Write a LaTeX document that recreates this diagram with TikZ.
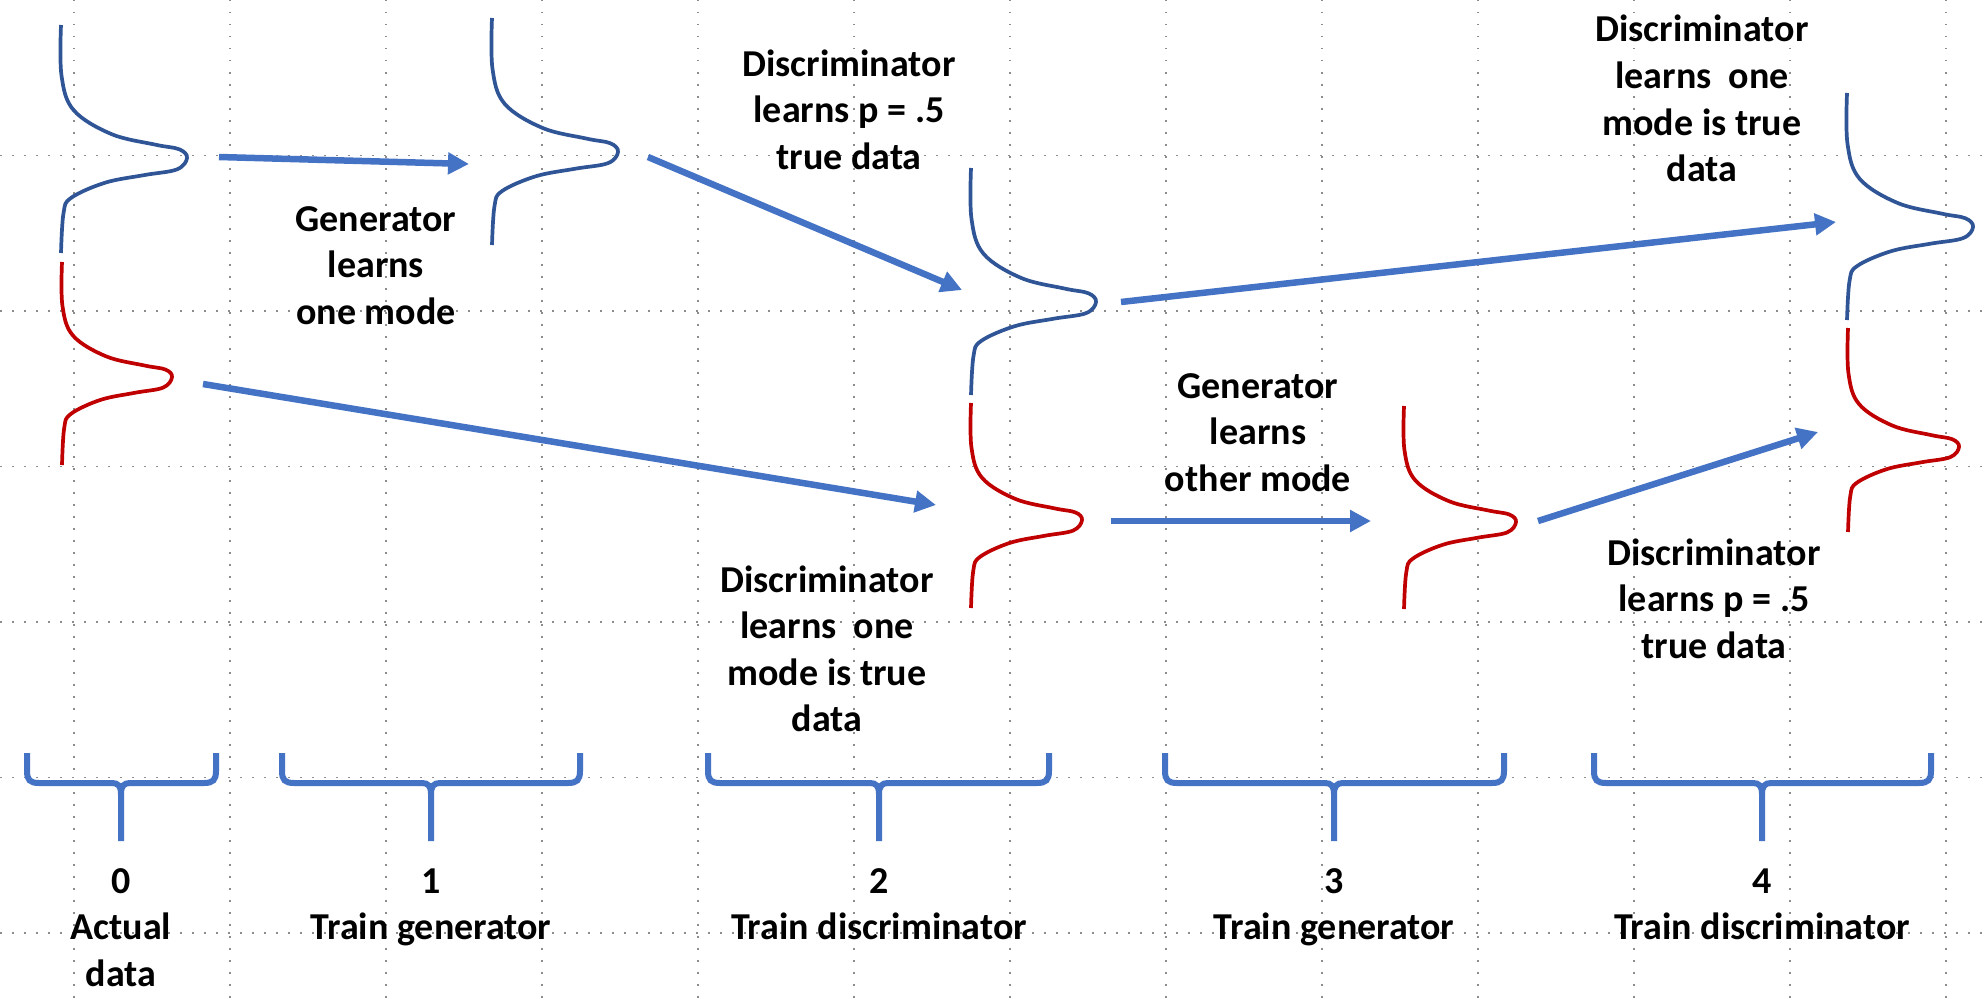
\documentclass[tikz,border=0pt]{standalone}
\usepackage{fontspec}
\newfontfamily\calfont{Carlito}
\usetikzlibrary{arrows.meta}
\definecolor{arrowblue}{HTML}{4472C4}
\definecolor{curveblue}{HTML}{2F5597}
\definecolor{curvered}{HTML}{C00000}
\newcommand{\ml}[1]{\begin{tabular}[t]{@{}c@{}}#1\end{tabular}}
% #1 style, #2 x0, #3 ytop, #4 xpeak, #5 ypeak, #6 ybottom
\newcommand{\modecurve}[6]{%
  \pgfmathsetmacro{\mcW}{#4-#2}%
  \pgfmathsetmacro{\mcU}{#5-#3}%
  \pgfmathsetmacro{\mcL}{#6-#5}%
  \draw[#1] plot[smooth, tension=0.6] coordinates {
    (#2,#3)
    ({#2+0.004*\mcW},{#5-0.62*\mcU})
    ({#2+0.1*\mcW},{#5-0.36*\mcU})
    ({#2+0.4*\mcW},{#5-0.18*\mcU})
    ({#2+0.75*\mcW},{#5-0.10*\mcU})
    ({#2+0.94*\mcW},{#5-0.065*\mcU})
    (#4,#5)
    ({#2+0.92*\mcW},{#5+0.12*\mcL})
    ({#2+0.66*\mcW},{#5+0.18*\mcL})
    ({#2+0.35*\mcW},{#5+0.26*\mcL})
    ({#2+0.08*\mcW},{#5+0.42*\mcL})
    ({#2+0.02*\mcW},{#5+0.58*\mcL})
    (#2,#6)
  };
}
% #1 left x, #2 right x, #3 stem x, #4 name
\newcommand{\stepbrace}[4]{%
  \draw[bracestyle] (#1,753) -- (#1,771) .. controls (#1,780) and ({#1+3},783) .. ({#1+12},783)
     -- ({#3-9},783) .. controls ({#3-3},783) and (#3,786) .. (#3,794) -- (#3,841);
  \draw[bracestyle] (#2,753) -- (#2,771) .. controls (#2,780) and ({#2-3},783) .. ({#2-12},783)
     -- ({#3+9},783) .. controls ({#3+3},783) and (#3,786) .. (#3,794);
  \coordinate (#4) at (#3,841);
}
\begin{document}
\begin{tikzpicture}[x=1pt,y=-1pt,
  griddot/.style={black!45, line width=1.5pt, dash pattern=on 1.5pt off 10.5pt},
  bluecurve/.style={curveblue, line width=3.7pt},
  redcurve/.style={curvered, line width=3.7pt},
  bigarrow/.style={arrowblue, line width=6.5pt, -{Triangle[length=21pt,width=21pt]}},
  bracestyle/.style={arrowblue, line width=6pt},
  lbl/.style={inner sep=0pt, anchor=base, font=\calfont\bfseries\fontsize{38}{46.5}\selectfont}]
\useasboundingbox (0,0) rectangle (1985,998);
\fill[white] (0,0) rectangle (1985,998);
% dotted grid
\foreach \i in {0,...,12} \draw[griddot] ({74+156*\i},0) -- ({74+156*\i},998);
\foreach \j in {1,...,6} \draw[griddot] (0,{155.5*\j}) -- (1985,{155.5*\j});

% distributions
\modecurve{bluecurve}{61}{25}{187}{158}{253}
\modecurve{redcurve}{62}{262}{172}{377}{465}
\modecurve{bluecurve}{492}{18}{618}{152}{245}
\modecurve{bluecurve}{971}{168}{1096}{302}{395}
\modecurve{redcurve}{971}{403}{1082}{520}{608}
\modecurve{redcurve}{1404}{406}{1516}{522}{609}
\modecurve{bluecurve}{1847}{93}{1973}{227}{320}
\modecurve{redcurve}{1848}{328}{1959}{447}{532}

% arrow end points
\coordinate (a1s) at (219,157);  \coordinate (a1e) at (469,164);
\coordinate (a2s) at (648,157);  \coordinate (a2e) at (962,290);
\coordinate (a3s) at (203,384);  \coordinate (a3e) at (936,505);
\coordinate (a4s) at (1121,302); \coordinate (a4e) at (1836,222);
\coordinate (a5s) at (1111,521); \coordinate (a5e) at (1371,521);
\coordinate (a6s) at (1538,521); \coordinate (a6e) at (1818,432);
\draw[bigarrow] (a1s) -- (a1e);
\draw[bigarrow] (a2s) -- (a2e);
\draw[bigarrow] (a3s) -- (a3e);
\draw[bigarrow] (a4s) -- (a4e);
\draw[bigarrow] (a5s) -- (a5e);
\draw[bigarrow] (a6s) -- (a6e);

% annotations
\node[lbl] (t1) at (376,231) {\ml{Generator\\learns\\one mode}};
\node[lbl] (t2) at (849,76) {\ml{Discriminator\\learns p = .5\\true data}};
\node[lbl] (t3) at (1702,42) {\ml{Discriminator\\learns~~one\\mode is true\\data}};
\node[lbl] (t4) at (1258,398) {\ml{Generator\\learns\\other mode}};
\node[lbl] (t5) at (827,592) {\ml{Discriminator\\learns~~one\\mode is true\\data}};
\node[lbl] (t6) at (1714,565) {\ml{Discriminator\\learns p = .5\\true data}};

% step braces
\stepbrace{27}{216}{121}{s0}
\stepbrace{282}{580}{431}{s1}
\stepbrace{708}{1049}{879}{s2}
\stepbrace{1165}{1504}{1334}{s3}
\stepbrace{1594}{1931}{1762}{s4}

% step labels
\node[lbl] (l0) at (121,893) {\ml{0\\Actual\\data}};
\node[lbl] (l1) at (431,893) {\ml{1\\Train generator}};
\node[lbl] (l2) at (879,893) {\ml{2\\Train discriminator}};
\node[lbl] (l3) at (1334,893) {\ml{3\\Train generator}};
\node[lbl] (l4) at (1762,893) {\ml{4\\Train discriminator}};
\end{tikzpicture}
\end{document}
